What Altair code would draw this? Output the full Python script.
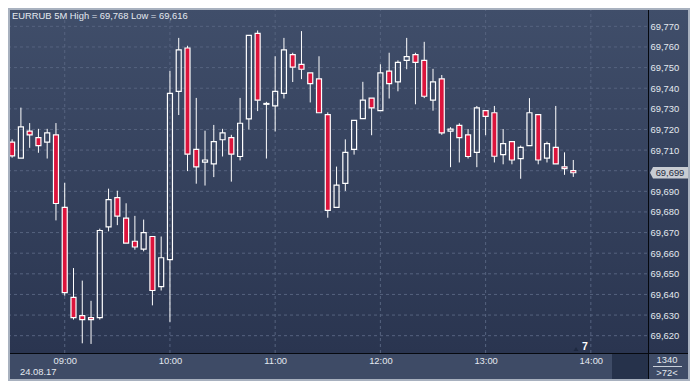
import altair as alt
import numpy as np
import pandas as pd

# ---------------- data ----------------
symbol = "EURRUB"
period = "5M"
session_date = "24.08.17"
first_bar = "08:30"
bar_minutes = 5

opens = [69.7139, 69.7061, 69.7192, 69.7160, 69.7139, 69.7174,
         69.6822, 69.6386, 69.6297, 69.6288, 69.6288, 69.6728, 69.6869, 69.6770, 69.6658, 69.6620, 69.6681, 69.6438,
         69.6569, 69.7385, 69.7595, 69.7103, 69.7042, 69.7033, 69.7150, 69.7160, 69.7069, 69.7251, 69.7666, 69.7322,
         69.7314, 69.7375, 69.7563, 69.7516, 69.7474, 69.7445, 69.7272, 69.6822, 69.6939, 69.7103, 69.7253, 69.7352,
         69.7291, 69.7483, 69.7431, 69.7535, 69.7563, 69.7535, 69.7342, 69.7445, 69.7192, 69.7220, 69.7174, 69.7089,
         69.7291, 69.7281, 69.7078, 69.7141, 69.7059, 69.7122, 69.7272, 69.7061, 69.7113, 69.7019, 69.7000]
highs = [69.7152, 69.7306, 69.7231, 69.7203, 69.7203, 69.7231,
         69.6941, 69.6528, 69.6467, 69.6369, 69.6719, 69.6913, 69.6903, 69.6842, 69.6781, 69.6763, 69.6681, 69.6681,
         69.7484, 69.7644, 69.7606, 69.7353, 69.7194, 69.7222, 69.7203, 69.7174, 69.7353, 69.7656, 69.7680, 69.7334,
         69.7555, 69.7644, 69.7572, 69.7677, 69.7474, 69.7555, 69.7283, 69.7020, 69.7152, 69.7244, 69.7431, 69.7352,
         69.7516, 69.7572, 69.7535, 69.7644, 69.7572, 69.7625, 69.7494, 69.7464, 69.7211, 69.7230, 69.7202, 69.7314,
         69.7291, 69.7314, 69.7202, 69.7141, 69.7122, 69.7352, 69.7272, 69.7141, 69.7314, 69.7089, 69.7052]
lows = [69.7063, 69.7061, 69.7111, 69.7087, 69.7059, 69.6759,
        69.6394, 69.6278, 69.6163, 69.6160, 69.6278, 69.6706, 69.6736, 69.6649, 69.6617, 69.6609, 69.6347, 69.6419,
        69.6267, 69.7270, 69.6998, 69.6937, 69.6928, 69.6969, 69.7069, 69.6947, 69.7050, 69.7200, 69.7289, 69.7059,
        69.7190, 69.7350, 69.7430, 69.7444, 69.7331, 69.7281, 69.6772, 69.6822, 69.6902, 69.7078, 69.7253, 69.7172,
        69.7291, 69.7350, 69.7385, 69.7492, 69.7322, 69.7352, 69.7291, 69.7174, 69.7017, 69.7040, 69.7059, 69.7017,
        69.7172, 69.7040, 69.7031, 69.7031, 69.6961, 69.7122, 69.7031, 69.7040, 69.7033, 69.6980, 69.6970]
closes = [69.7072, 69.7213, 69.7174, 69.7122, 69.7183, 69.6841,
          69.6409, 69.6288, 69.6278, 69.6278, 69.6710, 69.6860, 69.6780, 69.6649, 69.6630, 69.6700, 69.6419, 69.6578,
          69.7375, 69.7586, 69.7080, 69.7019, 69.7052, 69.7141, 69.7183, 69.7080, 69.7230, 69.7656, 69.7342, 69.7326,
          69.7385, 69.7586, 69.7502, 69.7492, 69.7422, 69.7281, 69.6808, 69.6930, 69.7089, 69.7244, 69.7342, 69.7305,
          69.7474, 69.7422, 69.7525, 69.7553, 69.7525, 69.7361, 69.7431, 69.7183, 69.7202, 69.7160, 69.7069, 69.7305,
          69.7263, 69.7070, 69.7131, 69.7052, 69.7113, 69.7281, 69.7052, 69.7131, 69.7033, 69.7010, 69.6990]

grid_prices = [69.620, 69.630, 69.640, 69.650, 69.660, 69.670, 69.680, 69.690,
               69.700, 69.710, 69.720, 69.730, 69.740, 69.750, 69.760, 69.770]
label_prices = [69.620, 69.630, 69.640, 69.650, 69.660, 69.670, 69.680, 69.690,
                69.710, 69.720, 69.730, 69.740, 69.750, 69.760, 69.770]
hour_ticks = ["09:00", "10:00", "11:00", "12:00", "13:00", "14:00"]
bar_counter = "7"
bars_total = "1340"
zoom_text = ">72<"

# ---------------- layout / style ----------------
W, H = 640, 345          # plot area
RP, BP = 42, 28          # right panel, bottom panel
FONT = "Liberation Sans"
TXT = "#e4e9f0"
RED = "#dc143c"
GRID = "#56637f"
X_DOMAIN = [510.5, 869.75]
Y_DOMAIN = [69.6116, 69.7789]


def to_min(s):
    h, m = s.split(":")
    return int(h) * 60 + int(m)


def fmt(v):
    return f"{v:.3f}".replace(".", ",")


t0 = to_min(first_bar)
df = pd.DataFrame({"open": opens, "high": highs, "low": lows, "close": closes})
df["t"] = [t0 + bar_minutes * i for i in range(len(df))]
df["dir"] = np.where(df["close"] >= df["open"], "up", "down")
df["btop"] = df[["open", "close"]].max(axis=1)
df["bbot"] = df[["open", "close"]].min(axis=1)

wicks = pd.concat([
    pd.DataFrame({"t": df["t"], "y1": df["high"], "y2": df["btop"]}),
    pd.DataFrame({"t": df["t"], "y1": df["bbot"], "y2": df["low"]}),
])

header = f"{symbol} {period} High = {fmt(df['high'].max())} Low = {fmt(df['low'].min())}"
hour_min = [to_min(h) for h in hour_ticks]

xs = alt.Scale(domain=X_DOMAIN, nice=False, zero=False)
ys = alt.Scale(domain=Y_DOMAIN, nice=False, zero=False)
one = pd.DataFrame({"k": [0]})

yaxis = alt.Axis(orient="right", values=label_prices, title=None,
                 labelExpr="replace(format(datum.value, '.3f'), '.', ',')",
                 labelFont=FONT, labelFontSize=9.4, labelColor=TXT, labelPadding=2,
                 ticks=False, domain=False, grid=False, labelAlign="left",
                 labelBaseline="middle", labelOverlap=False, labelBound=False, zindex=1)
xaxis = alt.Axis(orient="bottom", values=hour_min, title=None,
                 labelExpr="(floor(datum.value/60) < 10 ? '0' : '') + floor(datum.value/60) + ':00'",
                 labelFont=FONT, labelFontSize=9.4, labelColor=TXT, labelPadding=3,
                 ticks=False, domain=False, grid=False, labelOverlap=False,
                 labelFlush=False, labelBound=False, zindex=1)


def X(field):
    return alt.X(field, scale=xs, axis=xaxis)


def Y(field):
    return alt.Y(field, scale=ys, axis=yaxis)


grad = alt.LinearGradient(
    gradient="linear",
    stops=[alt.GradientStop(color="#404e6a", offset=0),
           alt.GradientStop(color="#2a3550", offset=1)],
    x1=0, x2=0, y1=0, y2=1,
)

bg = alt.Chart(one).mark_rect(fill=grad).encode(
    x=alt.value(0), x2=alt.value(W + RP), y=alt.value(0), y2=alt.value(H))
bottom_panel = alt.Chart(one).mark_rect(fill="#3e4b66").encode(
    x=alt.value(0), x2=alt.value(W + RP), y=alt.value(H), y2=alt.value(H + BP))
dark_box = alt.Chart(one).mark_rect(fill="#26324b").encode(
    x=alt.value(604), x2=alt.value(W), y=alt.value(H), y2=alt.value(H + BP))

hgrid = alt.Chart(pd.DataFrame({"p": grid_prices})).mark_rule(
    stroke=GRID, strokeDash=[3, 3], strokeWidth=1).encode(
    y=Y("p:Q"), x=alt.value(0), x2=alt.value(W))
vgrid = alt.Chart(pd.DataFrame({"m": hour_min})).mark_rule(
    stroke=GRID, strokeDash=[3, 3], strokeWidth=1).encode(
    x=X("m:Q"), y=alt.value(0), y2=alt.value(H))

wick_layer = alt.Chart(wicks).mark_rule(color="white", strokeWidth=1, clip=True).encode(
    x=X("t:Q"), y=Y("y1:Q"), y2="y2:Q")

bodies = alt.Chart(df).mark_bar(size=5, stroke="white", strokeWidth=1.2, clip=True).encode(
    x=X("t:Q"), y=Y("btop:Q"), y2="bbot:Q",
    fill=alt.Fill("dir:N", scale=alt.Scale(domain=["up", "down"], range=["transparent", RED]),
                  legend=None),
)

vline = alt.Chart(one).mark_rule(color="#06090f", strokeWidth=1).encode(
    x=alt.value(W + 0.5), y=alt.value(0), y2=alt.value(H + BP))
hline = alt.Chart(one).mark_rule(color="#06090f", strokeWidth=1).encode(
    x=alt.value(0), x2=alt.value(W + RP), y=alt.value(H + 0.5))


def label(text, x, y, align="left", size=9.4, color=TXT, weight="normal"):
    return alt.Chart(one).mark_text(
        text=text, align=align, baseline="middle", font=FONT, fontSize=size,
        color=color, fontWeight=weight).encode(x=alt.value(x), y=alt.value(y))


header_t = label(header, 4, 8)
date_t = label(session_date, 12, H + 19)
counter_tri = alt.Chart(one).mark_point(shape="triangle-up", filled=True, fill="#1e2940",
                                        size=22, opacity=1).encode(
    x=alt.value(568), y=alt.value(H - 4))
counter_t = label(bar_counter, 577, H - 6, align="center", size=10.5, color="#ffffff", weight="bold")
total_t = label(bars_total, 659, H + 7, align="center")
total_rule = alt.Chart(one).mark_rule(color="#c9d0da", strokeWidth=1).encode(
    x=alt.value(645), x2=alt.value(674), y=alt.value(H + 13.5))
zoom_t = label(zoom_text, 659, H + 20, align="center")

last = df.iloc[[-1]].copy()
last["lab"] = last["close"].map(fmt)
tag_shape = "M-1,0 L-0.84,-0.3 L1,-0.3 L1,0.3 L-0.84,0.3 Z"
tag = alt.Chart(last).mark_point(shape=tag_shape, filled=True, fill="#c8ccd3",
                                 size=1444, opacity=1).encode(
    x=alt.value(661), y=Y("close:Q"))
tag_t = alt.Chart(last).mark_text(font=FONT, fontSize=9.4, color="#1f2a3f",
                                  align="center", baseline="middle").encode(
    x=alt.value(662), y=Y("close:Q"), text="lab:N")

border = alt.Chart(one).mark_rect(fill="transparent", stroke="#a8b1bf", strokeWidth=2).encode(
    x=alt.value(1), x2=alt.value(W + RP - 1), y=alt.value(1), y2=alt.value(H + BP - 1))

chart = alt.layer(
    bg, bottom_panel, dark_box, hgrid, vgrid, wick_layer, bodies, vline, hline,
    header_t, date_t, counter_tri, counter_t, total_t, total_rule, zoom_t, tag, tag_t, border,
).properties(
    width=W, height=H,
    padding={"left": 0, "top": 0, "right": RP, "bottom": BP},
    autosize=alt.AutoSizeParams(type="none"),
    background="white",
).configure_view(strokeWidth=0)

chart.save("out.html", embed_options={"renderer": "svg", "actions": False})
